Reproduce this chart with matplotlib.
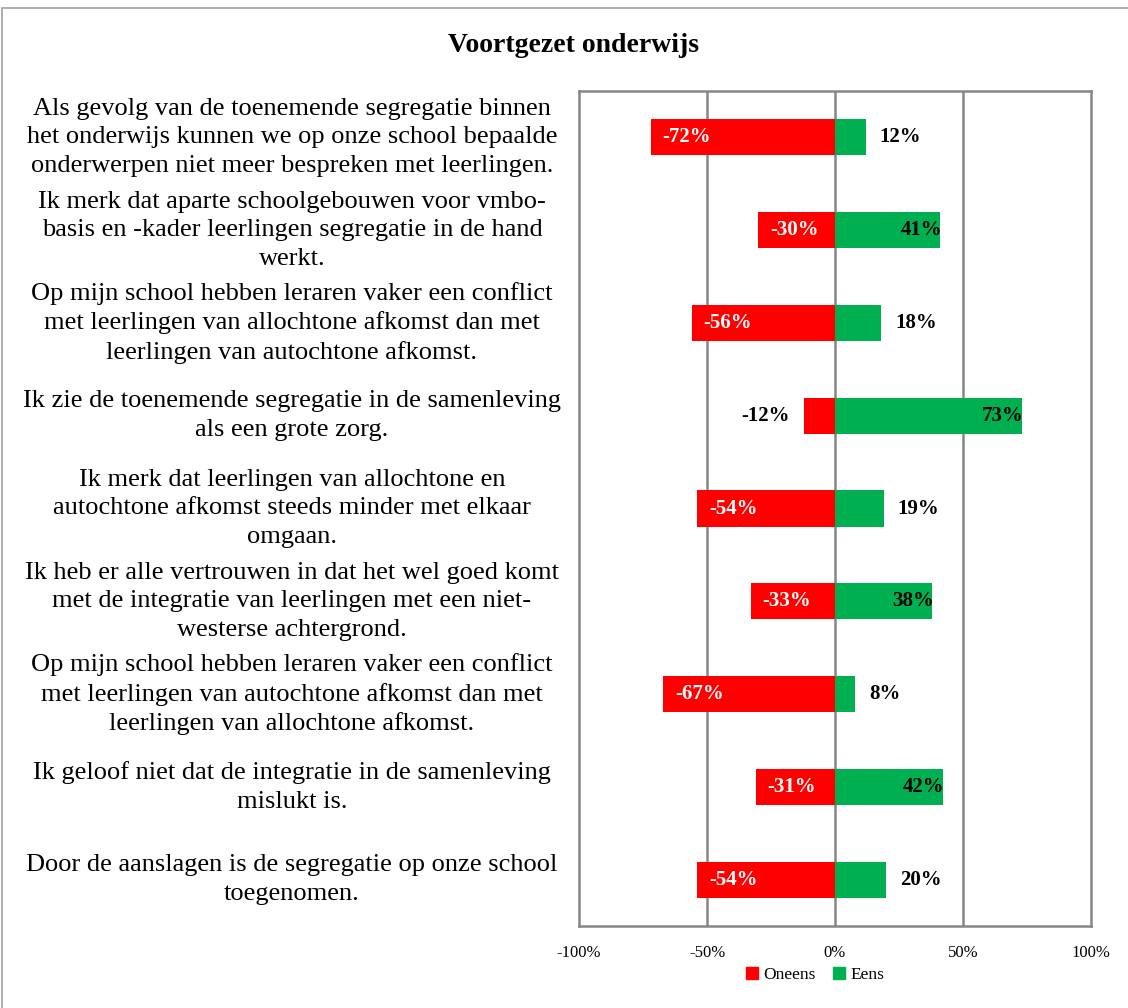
import numpy as np
import matplotlib
matplotlib.use('Agg')
import matplotlib.pyplot as plt
import matplotlib.transforms as mtransforms
from matplotlib.patches import Rectangle, Patch

plt.rcParams['font.family'] = ['Liberation Serif', 'DejaVu Serif']

statements = [
    'Als gevolg van de toenemende segregatie binnen\nhet onderwijs kunnen we op onze school bepaalde\nonderwerpen niet meer bespreken met leerlingen.',
    'Ik merk dat aparte schoolgebouwen voor vmbo-\nbasis en -kader leerlingen segregatie in de hand\nwerkt.',
    'Op mijn school hebben leraren vaker een conflict\nmet leerlingen van allochtone afkomst dan met\nleerlingen van autochtone afkomst.',
    'Ik zie de toenemende segregatie in de samenleving\nals een grote zorg.',
    'Ik merk dat leerlingen van allochtone en\nautochtone afkomst steeds minder met elkaar\nomgaan.',
    'Ik heb er alle vertrouwen in dat het wel goed komt\nmet de integratie van leerlingen met een niet-\nwesterse achtergrond.',
    'Op mijn school hebben leraren vaker een conflict\nmet leerlingen van autochtone afkomst dan met\nleerlingen van allochtone afkomst.',
    'Ik geloof niet dat de integratie in de samenleving\nmislukt is.',
    'Door de aanslagen is de segregatie op onze school\ntoegenomen.',
]
oneens = [-72, -30, -56, -12, -54, -33, -67, -31, -54]
eens = [12, 41, 18, 73, 19, 38, 8, 42, 20]
xticks = [-100, -50, 0, 50, 100]

red = '#FF0000'
green = '#00B050'
grid = '#868686'

fig = plt.figure(figsize=(11.28, 10.08), dpi=100)
ax = fig.add_axes([579/1128, 1 - 926/1008, 512/1128, 835/1008])

y = np.arange(len(statements))
ax.barh(y, oneens, height=0.39, color=red, zorder=3)
ax.barh(y, eens, height=0.39, color=green, zorder=3)

ax.set_xlim(-100, 100)
ax.set_ylim(len(statements) - 0.5, -0.5)
ax.set_xticks(xticks)
ax.set_xticklabels([f'{t}%' for t in xticks], fontsize=12)
ax.set_yticks([])
ax.tick_params(axis='x', length=0, pad=14)
for t in [-50, 0, 50]:
    ax.axvline(t, color=grid, lw=1.8, zorder=1)
for s in ax.spines.values():
    s.set_color(grid)
    s.set_linewidth(1.8)

# category labels, centred in the left margin
trans = mtransforms.blended_transform_factory(fig.transFigure, ax.transData)
for i, lab in enumerate(statements):
    ax.text(292/1128, i, lab, transform=trans, ha='center', va='center',
            fontsize=19, linespacing=1.38)

# value labels
for i, v in enumerate(oneens):
    if v <= -20:
        off = mtransforms.offset_copy(ax.transData, fig=fig, x=12, y=0, units='dots')
        ax.text(v, i, f'{v}%', transform=off, ha='left', va='center',
                color='white', fontsize=15, fontweight='bold', zorder=4)
    else:
        off = mtransforms.offset_copy(ax.transData, fig=fig, x=-15, y=0, units='dots')
        ax.text(v, i, f'{v}%', transform=off, ha='right', va='center',
                color='black', fontsize=15, fontweight='bold', zorder=4)
for i, v in enumerate(eens):
    if v >= 30:
        off = mtransforms.offset_copy(ax.transData, fig=fig, x=2, y=0, units='dots')
        ax.text(v, i, f'{v}%', transform=off, ha='right', va='center',
                color='black', fontsize=15, fontweight='bold', zorder=4)
    else:
        off = mtransforms.offset_copy(ax.transData, fig=fig, x=14, y=0, units='dots')
        ax.text(v, i, f'{v}%', transform=off, ha='left', va='center',
                color='black', fontsize=15, fontweight='bold', zorder=4)

fig.text(573/1128, 1 - 46/1008, 'Voortgezet onderwijs', ha='center', va='center',
         fontsize=20, fontweight='bold')

handles = [Patch(color=red, label='Oneens'), Patch(color=green, label='Eens')]
fig.legend(handles=handles, loc='center', bbox_to_anchor=(815/1128, 1 - 975/1008),
           ncol=2, frameon=False, fontsize=12.5, handlelength=0.7, handleheight=0.7,
           handletextpad=0.3, columnspacing=1.0)

# outer chart border
fig.patches.append(Rectangle((2/1128, -0.05), 1.1, 1.05 - 8/1008, transform=fig.transFigure,
                             fill=False, edgecolor='#A0A0A0', lw=1.2))

fig.savefig('out.png', dpi=100)
